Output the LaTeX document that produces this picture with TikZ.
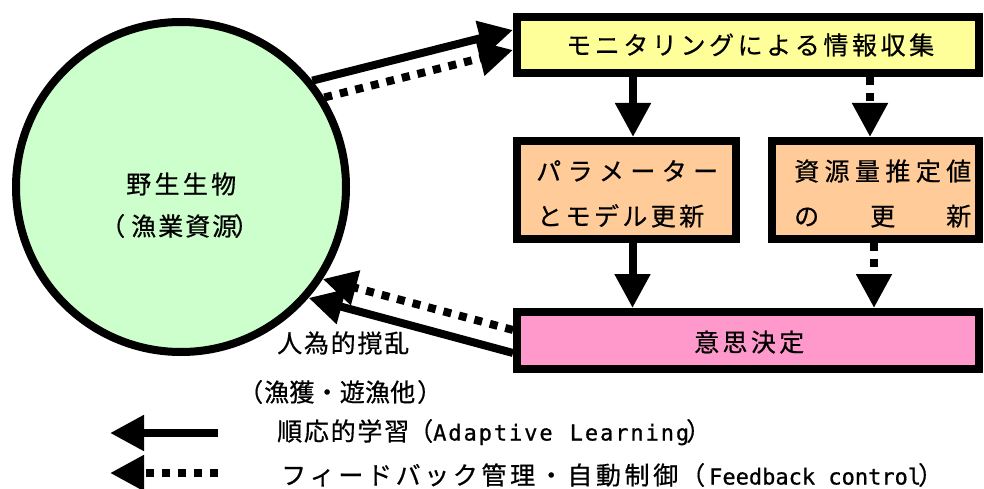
\documentclass[tikz,border=0pt]{standalone}
\usepackage{fontspec}
\setmainfont{Noto Sans CJK JP}[FakeBold=0.6]
\newfontfamily\lat{DejaVu Sans Mono}[FakeBold=0.8]
\usetikzlibrary{arrows.meta}
\definecolor{cgreen}{RGB}{204,255,204}
\definecolor{cyellow}{RGB}{255,255,153}
\definecolor{corange}{RGB}{255,204,153}
\definecolor{cpink}{RGB}{255,153,204}
\makeatletter
\newcommand\spreadchars[2]{\makebox[#1][l]{\def\sc@first{x}\@tfor\sc@c:=#2\do{\ifx\sc@first\@empty\hfill\fi\sc@c\let\sc@first\@empty}}}
\makeatother
\newcommand\latf{\lat\fontsize{22pt}{24pt}\selectfont}
\begin{document}
\begin{tikzpicture}[x=1pt,y=-1pt,
  box/.style={draw=black, line width=8pt, rectangle, inner sep=0pt},
  sarr/.style={line width=8pt, -{Triangle[length=34pt,width=34pt]}},
  darr/.style={sarr, dash pattern=on 8pt off 8pt},
  txt/.style={font=\fontsize{25pt}{28pt}\selectfont, inner sep=0pt, anchor=base west},
]
\useasboundingbox (0,0) rectangle (984,489);
\node[circle, draw=black, line width=8pt, fill=cgreen, minimum size=330pt, inner sep=0pt] (circ) at (181,187) {};
\node[box, fill=cyellow, minimum width=462pt, minimum height=56pt] (mon) at (748,45) {};
\node[box, fill=corange, minimum width=219pt, minimum height=98pt] (par) at (626.5,190) {};
\node[box, fill=corange, minimum width=207pt, minimum height=98pt] (res) at (875.5,190) {};
\node[box, fill=cpink, minimum width=462pt, minimum height=57pt] (dec) at (748,340.5) {};

\node[txt] (tc1) at (126,193.5) {\spreadchars{110pt}{野生生物}};
\node[txt] (tc2) at (100,235.5) {（\hspace{6pt}\spreadchars{106pt}{漁業資源}\hspace{-3pt}）};
\node[txt] (tm) at (566,54.5) {\spreadchars{368pt}{モニタリングによる情報収集}};
\node[txt] (tp1) at (536,180.5) {\spreadchars{182pt}{パラメーター}};
\node[txt] (tp2) at (537,225.5) {\spreadchars{167pt}{とモデル更新}};
\node[txt] (tr1) at (794,180.5) {\spreadchars{177pt}{資源量推定値}};
\node[txt] (tr2) at (794,225.5) {\spreadchars{177pt}{の更新}};
\node[txt] (td) at (694,351.5) {\spreadchars{110pt}{意思決定}};
\node[txt] (th1) at (277,352.5) {\spreadchars{132pt}{人為的撹乱}};
\node[txt] (th2) at (238,401.5) {（\hspace{1pt}\spreadchars{151pt}{漁獲・遊漁他}\hspace{2pt}）};

\draw[sarr] (circ.39) -- ([yshift=15pt]mon.west);
\draw[darr] (circ.32) -- ([yshift=-5pt]mon.west);
\draw[sarr] ([yshift=-12.5pt]dec.west) -- (circ.-41);
\draw[darr] ([yshift=10.5pt]dec.west) -- (circ.-33);

\draw[sarr] ([xshift=6.5pt]par.north |- mon.south) -- ([xshift=6.5pt]par.north);
\draw[darr] ([xshift=-5.5pt]res.north |- mon.south) -- ([xshift=-5.5pt]res.north);
\draw[sarr] ([xshift=6pt]par.south) -- ([xshift=6pt]par.south |- dec.north);
\draw[darr] ([xshift=-1.5pt]res.south) -- ([xshift=-1.5pt]res.south |- dec.north);

\coordinate (l1s) at (218,433);
\coordinate (l1e) at (110,433);
\coordinate (l2s) at (218,473);
\coordinate (l2e) at (110,473);
\draw[sarr] (l1s) -- (l1e);
\draw[darr] (l2s) -- (l2e);
\node[txt] (leg1) at (277,440.5) {\spreadchars{132pt}{順応的学習}\hspace{-1pt}（\hspace{0pt}{\latf\spreadchars{256pt}{Adaptive~Learning}}\hspace{-3pt}）};
\node[txt] (leg2) at (281,484.5) {\spreadchars{397pt}{フィードバック管理・自動制御}\hspace{2pt}（\hspace{4pt}{\latf\spreadchars{208pt}{Feedback~control}}\hspace{1pt}）};
\end{tikzpicture}
\end{document}
